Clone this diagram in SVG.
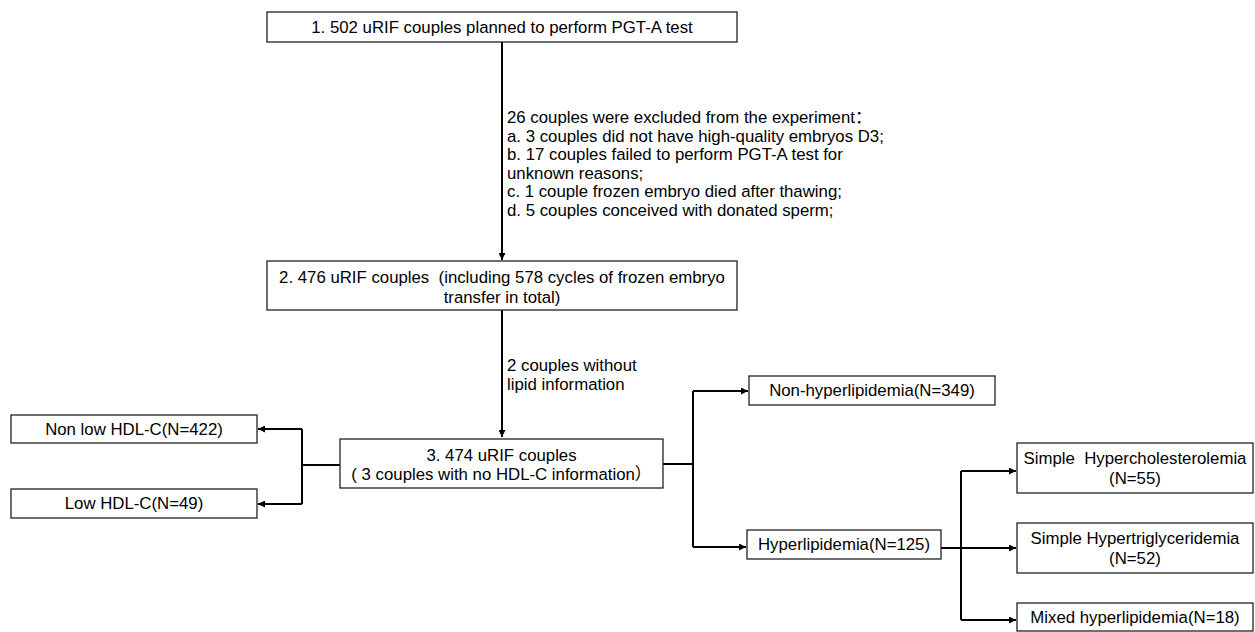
<svg xmlns="http://www.w3.org/2000/svg" width="1255" height="632" viewBox="0 0 1255 632">
<style>
text{font-family:"Liberation Sans","Noto Sans CJK SC",Arial,sans-serif;font-size:16.8px;fill:#000;white-space:pre}
.c{text-anchor:middle}
.box{fill:#fff;stroke:#222;stroke-width:1.3}
.ln{fill:none;stroke:#000;stroke-width:2}
</style>
<defs>
<marker id="ah" viewBox="0 0 10 10" refX="10" refY="5" markerWidth="9" markerHeight="7" markerUnits="userSpaceOnUse" orient="auto">
<path d="M0,0 L10,5 L0,10 z" fill="#000"/>
</marker>
</defs>
<rect width="1255" height="632" fill="#fff"/>
<g id="connectors">
<path class="ln" d="M502,42 V260" marker-end="url(#ah)"/>
<path class="ln" d="M502,310 V437" marker-end="url(#ah)"/>
<path class="ln" d="M340,465 H302"/>
<path class="ln" d="M302,429 V504"/>
<path class="ln" d="M302,429 H258" marker-end="url(#ah)"/>
<path class="ln" d="M302,504 H258" marker-end="url(#ah)"/>
<path class="ln" d="M663,464 H693"/>
<path class="ln" d="M693,391 V547"/>
<path class="ln" d="M693,391 H748" marker-end="url(#ah)"/>
<path class="ln" d="M693,547 H746" marker-end="url(#ah)"/>
<path class="ln" d="M941,548 H961"/>
<path class="ln" d="M961,471 V620"/>
<path class="ln" d="M961,471 H1016" marker-end="url(#ah)"/>
<path class="ln" d="M961,548 H1016" marker-end="url(#ah)"/>
<path class="ln" d="M961,620 H1016" marker-end="url(#ah)"/>
</g>
<g id="exclusion-note">
<text x="507" y="123">26 couples were excluded from the experiment：</text>
<text x="507" y="141.5">a. 3 couples did not have high-quality embryos D3;</text>
<text x="507" y="160">b. 17 couples failed to perform PGT-A test for</text>
<text x="507" y="178.5">unknown reasons;</text>
<text x="507" y="197">c. 1 couple frozen embryo died after thawing;</text>
<text x="507" y="215.5">d. 5 couples conceived with donated sperm;</text>
</g>
<g id="lipid-note">
<text x="507" y="371">2 couples without</text>
<text x="507" y="390">lipid information</text>
</g>
<g id="n1">
<rect class="box" x="267" y="12" width="470" height="30"/>
<text class="c" x="502" y="33">1. 502 uRIF couples planned to perform PGT-A test</text>
</g>
<g id="n2">
<rect class="box" x="267" y="261" width="470" height="49"/>
<text class="c" x="502" y="283">2. 476 uRIF couples  (including 578 cycles of frozen embryo</text>
<text class="c" x="502" y="303">transfer in total)</text>
</g>
<g id="n3">
<rect class="box" x="340" y="439" width="323" height="49"/>
<text class="c" x="501.5" y="461">3. 474 uRIF couples</text>
<text class="c" x="501.5" y="480">( 3 couples with no HDL-C information）</text>
</g>
<g id="n-nonlow">
<rect class="box" x="11" y="415" width="246" height="28"/>
<text class="c" x="134" y="435">Non low HDL-C(N=422)</text>
</g>
<g id="n-low">
<rect class="box" x="11" y="489" width="246" height="29"/>
<text class="c" x="134" y="509">Low HDL-C(N=49)</text>
</g>
<g id="n-nonhyper">
<rect class="box" x="749" y="376" width="246" height="29"/>
<text class="c" x="872" y="396">Non-hyperlipidemia(N=349)</text>
</g>
<g id="n-hyper">
<rect class="box" x="747" y="530" width="194" height="29"/>
<text class="c" x="844" y="550">Hyperlipidemia(N=125)</text>
</g>
<g id="n-chol">
<rect class="box" x="1017" y="443" width="236" height="50"/>
<text class="c" x="1135" y="464">Simple  Hypercholesterolemia</text>
<text class="c" x="1135" y="484">(N=55)</text>
</g>
<g id="n-tg">
<rect class="box" x="1017" y="523" width="236" height="50"/>
<text class="c" x="1135" y="544">Simple Hypertriglyceridemia</text>
<text class="c" x="1135" y="564">(N=52)</text>
</g>
<g id="n-mixed">
<rect class="box" x="1017" y="603" width="236" height="28"/>
<text class="c" x="1135" y="623">Mixed hyperlipidemia(N=18)</text>
</g>
</svg>
